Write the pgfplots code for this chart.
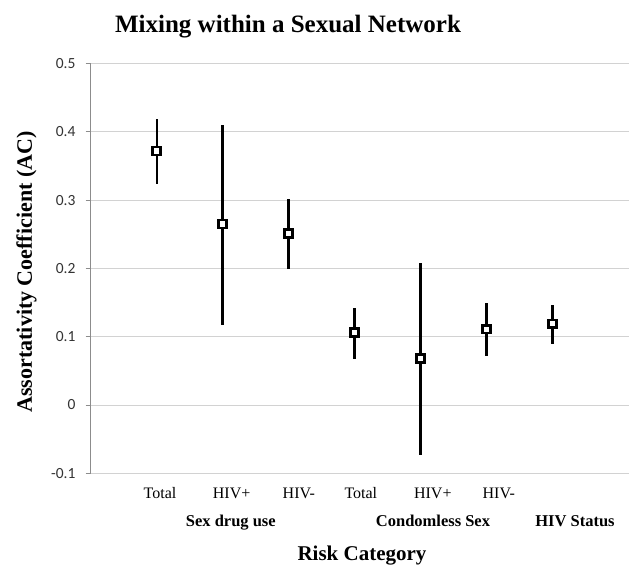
\documentclass[border=0pt]{standalone}
\usepackage{pgfplots}
\pgfplotsset{compat=1.18}
\usepackage{pgfplotstable}
\usepackage{fontspec}
\setmainfont{Liberation Serif}
\newfontfamily\calibri{Carlito}

% x, AC, upper and lower distance of the error bar
\pgfplotstableread{
x  y     ep    em
1  0.372 0.047 0.048
2  0.265 0.145 0.148
3  0.251 0.050 0.052
4  0.106 0.036 0.039
5  0.068 0.140 0.141
6  0.111 0.038 0.039
7  0.119 0.027 0.029
}\actable

\begin{document}
\begin{tikzpicture}
\path[use as bounding box] (0,0) rectangle (630pt,567pt);
\begin{axis}[
    at={(90.7pt,93.7pt)}, anchor=south west,
    scale only axis, width=538.3pt, height=409.8pt,
    xmin=0, xmax=8.16, ymin=-0.1, ymax=0.5,
    axis lines*=left,
    y axis line style={draw=black!45, line width=0.9pt},
    x axis line style={draw=gray!35, line width=0.9pt},
    ymajorgrids, grid style={draw=gray!35, line width=0.9pt},
    ytick={-0.1,0,0.1,0.2,0.3,0.4,0.5},
    yticklabels={-0.1,0,0.1,0.2,0.3,0.4,0.5},
    tick align=outside, major tick length=5pt,
    ytick style={draw=black!45, line width=0.9pt},
    yticklabel style={font=\calibri\fontsize{15.5}{17}\selectfont, text=black!80, anchor=east, inner xsep=0pt, xshift=-10pt},
    xtick={1.05,2.136,3.156,4.095,5.186,6.186},
    xticklabels={Total,HIV+,HIV-,Total,HIV+,HIV-},
    xtick style={draw=none},
    xticklabel style={font=\fontsize{16}{18}\selectfont, anchor=base, yshift=-20pt},
    clip=false,
]
\addplot[only marks, mark=none,
    error bars/.cd, y dir=both, y explicit, error mark=none,
    error bar style={line width=2.3pt, black}]
    table[x=x, y=y, y error plus=ep, y error minus=em]{\actable};
\addplot[only marks, mark=square*, mark size=3.9pt,
    mark options={fill=white, draw=black, line width=2.6pt}]
    table[x=x, y=y]{\actable};
\end{axis}
\node[font=\fontsize{25}{30}\selectfont\bfseries, anchor=base] at (288pt,534pt) {Mixing within a Sexual Network};
\node[font=\fontsize{16.5}{18}\selectfont\bfseries, anchor=base] at (230.8pt,40pt) {Sex drug use};
\node[font=\fontsize{16.5}{18}\selectfont\bfseries, anchor=base] at (433pt,40pt) {Condomless Sex};
\node[font=\fontsize{16.5}{18}\selectfont\bfseries, anchor=base] at (575pt,40pt) {HIV Status};
\node[font=\fontsize{21}{24}\selectfont\bfseries, anchor=base] at (362pt,6pt) {Risk Category};
\node[font=\fontsize{22}{25}\selectfont\bfseries, rotate=90] at (26.5pt,295pt) {Assortativity Coefficient (AC)};
\end{tikzpicture}
\end{document}
